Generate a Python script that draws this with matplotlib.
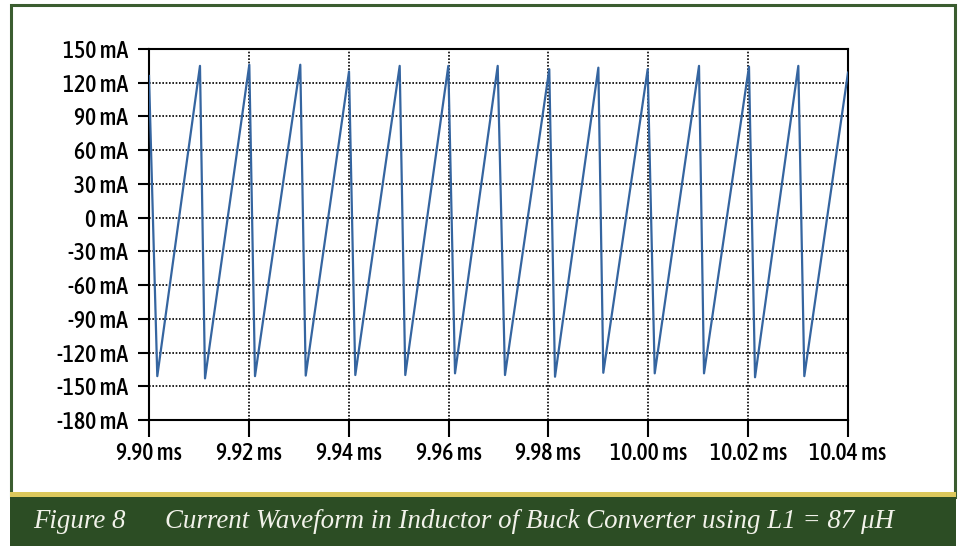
"""
Current waveform in the inductor of a buck converter (L1 = 87 uH).
Recreated figure: sawtooth inductor current over 9.90 - 10.04 ms.
"""

import matplotlib
matplotlib.use("Agg")
import matplotlib.pyplot as plt
from matplotlib import font_manager as fm
from matplotlib.patches import Rectangle
from matplotlib.ticker import FuncFormatter

# --- Data -------------------------------------------------------------------
# Vertex times (ms) of the sawtooth: start, then alternating trough / peak.
time_ms = [
    9.90000, 9.90166, 9.91021, 9.91122, 9.92009, 9.92123, 9.93030, 9.93139,
    9.94006, 9.94132, 9.95021, 9.95133, 9.95995, 9.96129, 9.96984, 9.97130,
    9.98017, 9.98132, 9.99000, 9.99099, 9.99988, 10.00129, 10.01016, 10.01116,
    10.02017, 10.02138, 10.03005, 10.03125, 10.04000,
]
current_ma = [
    126, -141, 135, -143, 136, -141, 136, -140.5,
    130, -140, 135, -140, 135, -138.5, 135, -140,
    132, -141.5, 133.4, -138, 132, -138.5, 135, -138.5,
    134.3, -142, 135, -141, 129,
]
x_ticks = [9.90, 9.92, 9.94, 9.96, 9.98, 10.00, 10.02, 10.04]
y_ticks = [150, 120, 90, 60, 30, 0, -30, -60, -90, -120, -150, -180]
caption_num = "Figure 8"
caption_txt = "Current Waveform in Inductor of Buck Converter using L1 = 87 \u03bcH"

# --- Styling ----------------------------------------------------------------
W, H = 961, 546
LINE = "#3565a0"
GREEN = "#2c4d24"
BORDER = "#3b5d30"
YELLOW = "#dcc85c"
CAP_FONT = ["Liberation Serif", "DejaVu Serif"]


def pick_tick_font():
    # The original uses a narrow sans (Myriad Condensed-like); try the
    # narrowest regular face the system has.
    rank = {"extra-condensed": 0, "condensed": 1, "semi-condensed": 3}
    best = None
    for f in fm.fontManager.ttflist:
        if f.style != "normal" or f.weight not in (400, 500, "normal", "regular"):
            continue
        st = str(f.stretch)
        if st in rank:
            r = rank[st]
        elif "ExtraCondensed" in f.name:
            r = 0
        elif "Narrow" in f.name:
            r = 2
        elif "SemiCondensed" in f.name:
            r = 3
        elif "Condensed" in f.name:
            r = 1
        else:
            continue
        # a medium weight looks closer to the original
        r = r * 2 + (0 if f.weight == 500 else 1)
        if best is None or r < best[0]:
            best = (r, f.fname)
    if best:
        return fm.FontProperties(fname=best[1], size=17)
    return fm.FontProperties(family=["Roboto", "DejaVu Sans"], size=14.5)


def fx(px):
    return px / W


def fy(py):
    # pixel row from top -> figure fraction from bottom
    return 1 - py / H


tick_prop = pick_tick_font()

fig = plt.figure(figsize=(W / 100, H / 100), dpi=100)
fig.patch.set_facecolor("white")

# frame: thin green outline, yellow rule, green caption band
fig.patches.append(Rectangle((fx(11), fy(497)), fx(944), fy(5) - fy(497),
                             transform=fig.transFigure, fill=False,
                             edgecolor=BORDER, lw=2.2))
fig.patches.append(Rectangle((fx(10), fy(546)), fx(946), fy(497) - fy(546),
                             transform=fig.transFigure, facecolor=GREEN,
                             edgecolor="none"))
fig.patches.append(Rectangle((fx(10), fy(497)), fx(946), fy(492) - fy(497),
                             transform=fig.transFigure, facecolor=YELLOW,
                             edgecolor="none"))

fig.text(fx(33), fy(521), caption_num, color="#f2f2ea", fontsize=19.4,
         style="italic", family=CAP_FONT, va="center", ha="left")
fig.text(fx(165), fy(521), caption_txt, color="#f2f2ea", fontsize=19.4,
         style="italic", family=CAP_FONT, va="center", ha="left")

# --- Plot -------------------------------------------------------------------
ax = fig.add_axes([fx(149), fy(420), fx(699), fy(49) - fy(420)])
ax.plot(time_ms, current_ma, color=LINE, lw=1.6, zorder=3)

ax.set_xlim(9.90, 10.04)
ax.set_ylim(-180, 150)
ax.set_xticks(x_ticks)
ax.set_yticks(y_ticks)
ax.xaxis.set_major_formatter(FuncFormatter(lambda v, _: f"{v:.2f} ms"))
ax.yaxis.set_major_formatter(FuncFormatter(lambda v, _: f"{v:.0f} mA"))

ax.grid(True, color="black", linestyle=(0, (1, 1)), lw=1.2, zorder=1)
for s in ax.spines.values():
    s.set_linewidth(1.5)
    s.set_color("black")

ax.tick_params(axis="y", length=8, width=1.5, pad=7)
ax.tick_params(axis="x", length=12, width=1.5, pad=4)
for lbl in ax.get_xticklabels() + ax.get_yticklabels():
    lbl.set_fontproperties(tick_prop)

fig.savefig("out.png", dpi=100)
